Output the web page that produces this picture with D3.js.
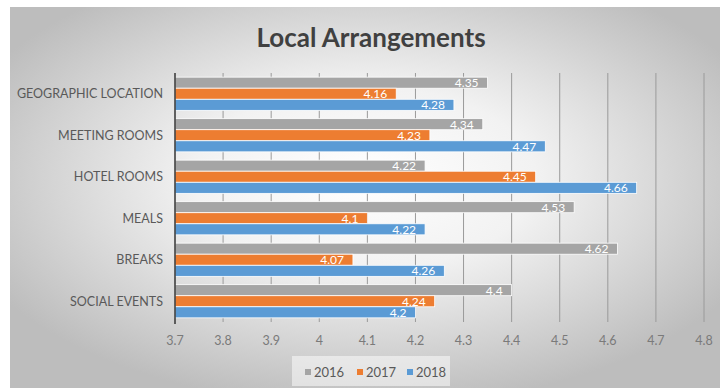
<!DOCTYPE html>
<html>
<head>
<meta charset="utf-8">
<script src="https://cdn.jsdelivr.net/npm/d3@7"></script>
<style>
  body { margin: 0; background: #fff; }
  text { font-family: Lato, "Open Sans", sans-serif; }
</style>
</head>
<body>
<div class="chart"></div>
<script>
var categories = ["GEOGRAPHIC LOCATION", "MEETING ROOMS", "HOTEL ROOMS", "MEALS", "BREAKS", "SOCIAL EVENTS"];
var years = ["2016", "2017", "2018"];
var values2016 = [4.35, 4.34, 4.22, 4.53, 4.62, 4.4];
var values2017 = [4.16, 4.23, 4.45, 4.1, 4.07, 4.24];
var values2018 = [4.28, 4.47, 4.66, 4.22, 4.26, 4.2];
var xTicks = [3.7, 3.8, 3.9, 4, 4.1, 4.2, 4.3, 4.4, 4.5, 4.6, 4.7, 4.8];

var colors = {"2016": "#a5a5a5", "2017": "#ed7d31", "2018": "#5b9bd5"};
var series = [values2016, values2017, values2018];

var w = 720, h = 389;
var margin = {top: 73, right: 16, bottom: 67, left: 175};

var svg = d3.select(".chart")
  .append("svg")
  .attr("width", w)
  .attr("height", h);

// background gradient
var defs = svg.append("defs");
var grad = defs.append("radialGradient")
  .attr("id", "bg")
  .attr("cx", "50%").attr("cy", "45%").attr("r", "60%");
grad.append("stop").attr("offset", "0%").attr("stop-color", "#ffffff");
grad.append("stop").attr("offset", "40%").attr("stop-color", "#f2f2f2");
grad.append("stop").attr("offset", "100%").attr("stop-color", "#bdbdbd");

svg.append("rect")
  .attr("x", 10).attr("y", 7)
  .attr("width", w - 10).attr("height", h - 8)
  .attr("fill", "url(#bg)");

// scales
var x = d3.scaleLinear()
  .domain([3.7, 4.8])
  .range([margin.left, w - margin.right]);

var y = d3.scaleBand()
  .domain(categories)
  .range([margin.top, h - margin.bottom])
  .paddingInner(0.2)
  .paddingOuter(0.1);

var y1 = d3.scaleBand()
  .domain(years)
  .range([0, y.bandwidth()]);

// gridlines
svg.append("g")
  .selectAll("line")
  .data(xTicks.slice(1))
  .enter()
  .append("line")
  .attr("x1", d => x(d)).attr("x2", d => x(d))
  .attr("y1", margin.top).attr("y2", h - margin.bottom)
  .attr("stroke", "#9a9a9a")
  .attr("stroke-width", 1);

// bars
var groups = svg.append("g")
  .selectAll("g")
  .data(categories)
  .enter()
  .append("g")
  .attr("transform", d => "translate(0," + y(d) + ")");

groups.each(function(cat, i) {
  var g = d3.select(this);
  years.forEach(function(yr, j) {
    var v = series[j][i];
    g.append("rect")
      .attr("x", x(3.7))
      .attr("y", y1(yr))
      .attr("width", x(v) - x(3.7))
      .attr("height", y1.bandwidth())
      .attr("fill", colors[yr])
      .attr("stroke", "#ffffff")
      .attr("stroke-width", 0.8);
    g.append("text")
      .attr("x", x(v) - 9)
      .attr("y", y1(yr) + y1.bandwidth() / 2)
      .attr("dy", "0.36em")
      .attr("text-anchor", "end")
      .attr("fill", "#ffffff")
      .style("font-size", "12px")
      .text(String(v));
  });
});

// left axis line
svg.append("line")
  .attr("x1", x(3.7)).attr("x2", x(3.7))
  .attr("y1", margin.top).attr("y2", h - margin.bottom + 2)
  .attr("stroke", "#333")
  .attr("stroke-width", 1.5);

// category labels
svg.append("g")
  .selectAll("text")
  .data(categories)
  .enter()
  .append("text")
  .attr("x", margin.left - 12)
  .attr("y", d => y(d) + y.bandwidth() / 2)
  .attr("dy", "0.36em")
  .attr("text-anchor", "end")
  .attr("fill", "#595959")
  .style("font-size", "12.5px")
  .text(d => d);

// x tick labels
svg.append("g")
  .selectAll("text")
  .data(xTicks)
  .enter()
  .append("text")
  .attr("x", d => x(d))
  .attr("y", 340)
  .attr("dy", "0.36em")
  .attr("text-anchor", "middle")
  .attr("fill", "#7a7a7a")
  .style("font-size", "12.5px")
  .text(d => String(d));

// title
svg.append("text")
  .attr("x", 371)
  .attr("y", 47)
  .attr("text-anchor", "middle")
  .attr("fill", "#404040")
  .style("font-size", "26px")
  .style("font-weight", "bold")
  .text("Local Arrangements");

// legend
svg.append("rect")
  .attr("x", 292).attr("y", 356)
  .attr("width", 158).attr("height", 30)
  .attr("fill", "#ffffff").attr("opacity", 0.5);

var legendX = [305, 357, 407];
years.forEach(function(yr, j) {
  svg.append("rect")
    .attr("x", legendX[j]).attr("y", 369)
    .attr("width", 6).attr("height", 6)
    .attr("fill", colors[yr]);
  svg.append("text")
    .attr("x", legendX[j] + 9)
    .attr("y", 372)
    .attr("dy", "0.36em")
    .attr("fill", "#595959")
    .style("font-size", "13px")
    .text(yr);
});
</script>
</body>
</html>
